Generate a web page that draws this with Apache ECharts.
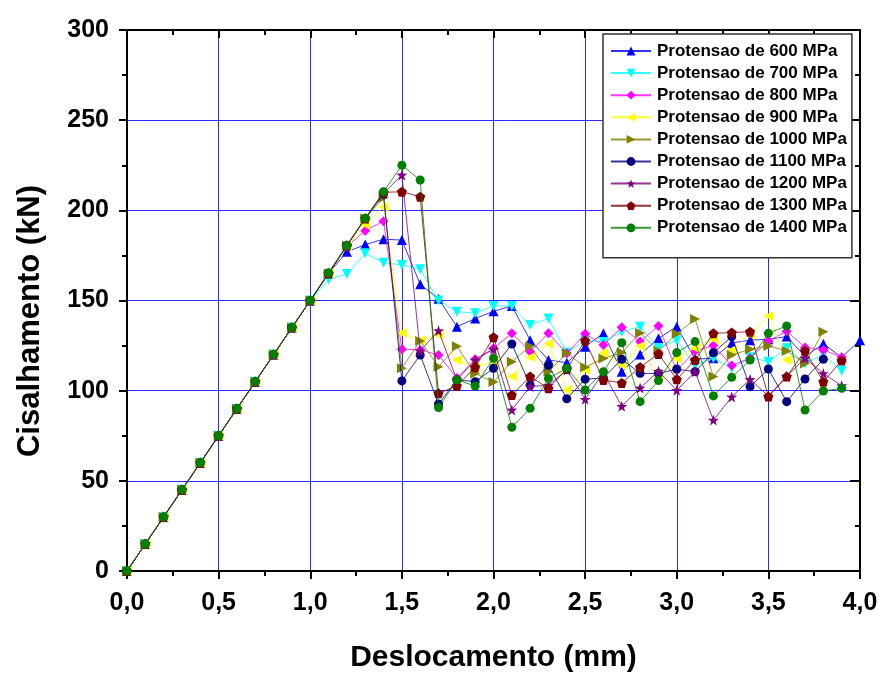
<!DOCTYPE html>
<html>
<head>
<meta charset="utf-8">
<script src="https://cdn.jsdelivr.net/npm/echarts@6/dist/echarts.min.js"></script>
<style>
html,body{margin:0;padding:0;background:#fff;}
#chart{width:882px;height:673px;}
</style>
</head>
<body>
<div id="chart"></div>
<script>
// Deslocamento (mm)
const xs = [0.0,0.1,0.2,0.3,0.4,0.5,0.6,0.7,0.8,0.9,1.0,1.1,1.2,1.3,1.4,1.5,1.6,1.7,1.8,1.9,2.0,
            2.1,2.2,2.3,2.4,2.5,2.6,2.7,2.8,2.9,3.0,3.1,3.2,3.3,3.4,3.5,3.6,3.7,3.8,3.9,4.0];
const xTicks = [0,0.5,1.0,1.5,2.0,2.5,3.0,3.5,4.0];
const yTicks = [0,50,100,150,200,250,300];

const p600  = [0,15,30,45,60,75,90,105,120,135,150,165,177,181,184,183.5,159,151,135.5,140,144,147,128,117,115.5,124.4,131.8,110.5,120,129,135.5,117.5,118,126.5,128,128.5,130,119,126,118.5,128];
const p700  = [0,15,30,45,60,75,90,105,120,135,150,161.7,164.7,176.2,171,169.7,167.3,150,143.8,142.9,147,147,136.4,140,121,128,127,132.7,135.5,123.5,128,114.3,118,112.4,118.5,116,123.5,115,120,111];
const p800  = [0,15,30,45,60,75,90,105,120,135,150,165,180,188.7,194,123,122.6,119.8,107,117.4,123.5,131.8,121.7,131.8,120.7,131.5,125.3,135.1,127.2,135.9,111.3,122,125,114,118,127.6,133,124,122.6,118.5];
const p900  = [0,15,30,45,60,75,90,105,120,135,150,165,180,192,202,132,128,131,117,113,116,107.8,118.5,126,100.4,111.5,121,114.3,124.8,107.8,117.7,123.5,128.5,122.6,131,141.4,117];
const p1000 = [0,15,30,45,60,75,90,105,120,135,150,165,180.5,195.5,207,112.5,127.6,113.3,124.6,109.5,104.8,116.1,124.6,110.5,120.7,113,117.9,121.1,132,122,131.5,139.8,107.8,119.8,122.9,124.8,122,115,132.7];
const p1100 = [0,15,30,45,60,75,90,105,120,135,150,165,180.5,195.5,209,105.4,119.8,92.6,106,105,112.4,125.9,103.1,114,95.5,106.4,107,117.4,109.6,109.5,112,110.5,121,130,102.2,112,93.9,106.5,117.4];
const p1200 = [0,15,30,45,60,75,90,105,120,135,150,165,180.5,195.5,209.5,219.6,122,133.3,106,117,123,89.3,102.3,103,111.5,95.2,110,91.3,101.5,110.8,100.2,110.5,83.7,96.5,106.3,97,108,118,109.5,102.8];
const p1300 = [0,15,30,45,60,75,90,105,120,135,150,165,180.5,195.5,210,210.3,207.6,98.5,102.6,113,129.6,97.6,107.8,101.3,112,127.7,105.9,104.3,113,120.4,106.3,117,131.8,132.2,132.7,96.7,107.8,122.2,105,116.7];
const p1400 = [0,15,30,45,60,75,90,105,120,135,150,165.4,180.4,195.6,210.3,225,216.8,90.6,106,102.6,118,79.7,90.2,106.8,112.4,100.4,110.5,126.6,93.9,105.6,121.1,127.2,97.1,107.4,117,131.8,135.9,89.3,99.8,101.3];

const names = ['Protensao de 600 MPa','Protensao de 700 MPa','Protensao de 800 MPa','Protensao de 900 MPa',
  'Protensao de 1000 MPa','Protensao de 1100 MPa','Protensao de 1200 MPa','Protensao de 1300 MPa','Protensao de 1400 MPa'];
const values = [p600,p700,p800,p900,p1000,p1100,p1200,p1300,p1400];
const colors = ['#0000ff','#00ffff','#ff00ff','#ffff00','#808000','#000080','#800080','#800000','#008000'];
const symbols = [
  'triangle',
  'path://M-10,-9L10,-9L0,9Z',
  'diamond',
  'path://M9,-10L9,10L-9,0Z',
  'path://M-9,-10L-9,10L9,0Z',
  'circle',
  'path://M0,-10L2.35,-3.24L9.51,-3.09L3.8,1.24L5.88,8.09L0,4L-5.88,8.09L-3.8,1.24L-9.51,-3.09L-2.35,-3.24Z',
  'path://M0,-10L9.51,-3.09L5.88,8.09L-5.88,8.09L-9.51,-3.09Z',
  'circle'
];
const sizes = [10,10,10,10,10,9,11,10,9];

const FONT = 'Liberation Sans, Arial, sans-serif';
const fmtX = v => v.toFixed(1).replace('.', ',');

const series = names.map((n, k) => ({
  name: n,
  type: 'line',
  xAxisIndex: 0, yAxisIndex: 0,
  data: values[k].map((v, i) => [xs[i], v]),
  symbol: symbols[k],
  symbolSize: sizes[k],
  showSymbol: true,
  color: colors[k],
  itemStyle: { color: colors[k] },
  lineStyle: { color: colors[k], width: 1, opacity: 0.8 },
  emphasis: { disabled: true },
  z: 2 + k
}));

const chart = echarts.init(document.getElementById('chart'), null, { renderer: 'canvas' });
chart.setOption({
  animation: false,
  backgroundColor: '#ffffff',
  grid: { left: 127, right: 22, top: 30, bottom: 102, containLabel: false, outerBoundsMode: 'none' },
  legend: {
    orient: 'vertical',
    left: 603, top: 34,
    data: names,
    itemWidth: 40, itemHeight: 11, itemGap: 4.1,
    padding: [8, 5, 21, 7],
    backgroundColor: '#ffffff',
    borderColor: '#333333', borderWidth: 1.5,
    textStyle: { fontFamily: FONT, fontWeight: 'bold', fontSize: 17, color: '#000', lineHeight: 18, padding: [0,0,0,1] },
    z: 20
  },
  graphic: [{
    type: 'text',
    x: 30, y: 321, rotation: Math.PI / 2,
    style: { text: 'Cisalhamento (kN)', fontFamily: FONT, fontWeight: 'bold', fontSize: 31, fill: '#000',
      align: 'center', verticalAlign: 'middle' },
    z: 30
  }],
  xAxis: [{
    type: 'value', min: 0, max: 4, interval: 0.5, position: 'bottom',
    name: 'Deslocamento (mm)', nameLocation: 'middle', nameGap: 72,
    nameTextStyle: { fontFamily: FONT, fontWeight: 'bold', fontSize: 30, color: '#000' },
    axisLine: { show: true, onZero: false, lineStyle: { color: '#000', width: 2 } },
    axisTick: { show: true, inside: false, length: 8, lineStyle: { color: '#000', width: 2 } },
    minorTick: { show: true, splitNumber: 2, length: 5, lineStyle: { color: '#000', width: 2 } },
    axisLabel: { formatter: fmtX, fontFamily: FONT, fontWeight: 'bold', fontSize: 25, color: '#000', margin: 20 },
    splitLine: { show: true, lineStyle: { color: '#2a2aff', width: 1 } }
  }, {
    type: 'value', min: 0, max: 4, interval: 0.5, position: 'top',
    axisLine: { show: true, onZero: false, lineStyle: { color: '#000', width: 2 } },
    axisTick: { show: true, inside: true, length: 8, lineStyle: { color: '#000', width: 2 } },
    minorTick: { show: true, splitNumber: 2, length: 5, lineStyle: { color: '#000', width: 2 } },
    axisLabel: { show: false }, splitLine: { show: false }
  }],
  yAxis: [{
    type: 'value', min: 0, max: 300, interval: 50, position: 'left',
    axisLine: { show: true, onZero: false, lineStyle: { color: '#000', width: 2 } },
    axisTick: { show: true, inside: false, length: 8, lineStyle: { color: '#000', width: 2 } },
    minorTick: { show: true, splitNumber: 2, length: 5, lineStyle: { color: '#000', width: 2 } },
    axisLabel: { fontFamily: FONT, fontWeight: 'bold', fontSize: 25, color: '#000', margin: 18 },
    splitLine: { show: true, lineStyle: { color: '#2a2aff', width: 1 } }
  }, {
    type: 'value', min: 0, max: 300, interval: 50, position: 'right',
    axisLine: { show: true, onZero: false, lineStyle: { color: '#000', width: 2 } },
    axisTick: { show: true, inside: true, length: 10, lineStyle: { color: '#000', width: 2 } },
    minorTick: { show: true, splitNumber: 2, length: 5, lineStyle: { color: '#000', width: 2 } },
    axisLabel: { show: false }, splitLine: { show: false }
  }],
  series: series
});
</script>
</body>
</html>
